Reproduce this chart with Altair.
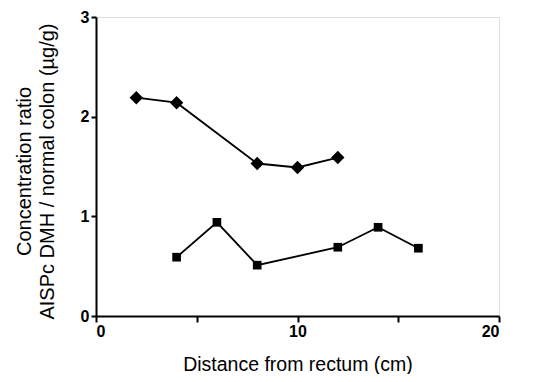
import altair as alt
import pandas as pd

diamond_x = [2, 4, 8, 10, 12]
diamond_y = [2.19, 2.14, 1.53, 1.49, 1.59]
square_x = [4, 6, 8, 12, 14, 16]
square_y = [0.59, 0.94, 0.51, 0.69, 0.89, 0.68]

df = pd.DataFrame({
    "series": ["A"] * len(diamond_x) + ["B"] * len(square_x),
    "x": diamond_x + square_x,
    "y": diamond_y + square_y,
})

FONT = "Liberation Sans"

x_enc = alt.X("x:Q", scale=alt.Scale(domain=[0, 20], nice=False),
              axis=alt.Axis(values=[0, 5, 10, 15, 20], format="d",
                            labelExpr="datum.value % 10 == 0 ? datum.label : ''",
                            title="Distance from rectum (cm)", grid=False, tickSize=6,
                            labelFontWeight="bold", labelFontSize=16, labelPadding=1,
                            titleFontSize=19.5, titleFontWeight="normal", titlePadding=16,
                            domainColor="black", domainWidth=2, tickColor="black", tickWidth=2,
                            labelColor="black", titleColor="black", labelFont=FONT, titleFont=FONT))
y_enc = alt.Y("y:Q", scale=alt.Scale(domain=[0, 3], nice=False),
              axis=alt.Axis(values=[0, 0.5, 1, 1.5, 2, 2.5, 3], format="d",
                            labelExpr="datum.value % 1 == 0 ? format(datum.value, 'd') : ''",
                            title=["Concentration ratio", "AISPc DMH / normal colon (µg/g)"],
                            grid=False, tickSize=5, labelFontWeight="bold", labelFontSize=16, labelPadding=2,
                            titleFontSize=20, titleFontWeight="normal", titlePadding=23, titleLineHeight=23,
                            titleY=154,
                            domainColor="black", domainWidth=2, tickColor="black", tickWidth=2,
                            labelColor="black", titleColor="black", labelFont=FONT, titleFont=FONT))

base = alt.Chart(df)
lines = base.mark_line(color="black", strokeWidth=1.8).encode(x=x_enc, y=y_enc, detail="series:N")
points = base.mark_point(filled=True, opacity=1, color="black").encode(
    x=x_enc, y=y_enc,
    shape=alt.Shape("series:N", scale=alt.Scale(domain=["A", "B"], range=["diamond", "square"]), legend=None),
    size=alt.Size("series:N", scale=alt.Scale(domain=["A", "B"], range=[180, 75]), legend=None),
)

chart = alt.layer(lines, points).properties(
    width=403, height=299,
    autosize="none",
    padding={"left": 88, "top": 9, "right": 36, "bottom": 58},
).configure_view(stroke=None).configure(background="white")

chart.save("out.html", embed_options={"renderer": "svg", "actions": False})
